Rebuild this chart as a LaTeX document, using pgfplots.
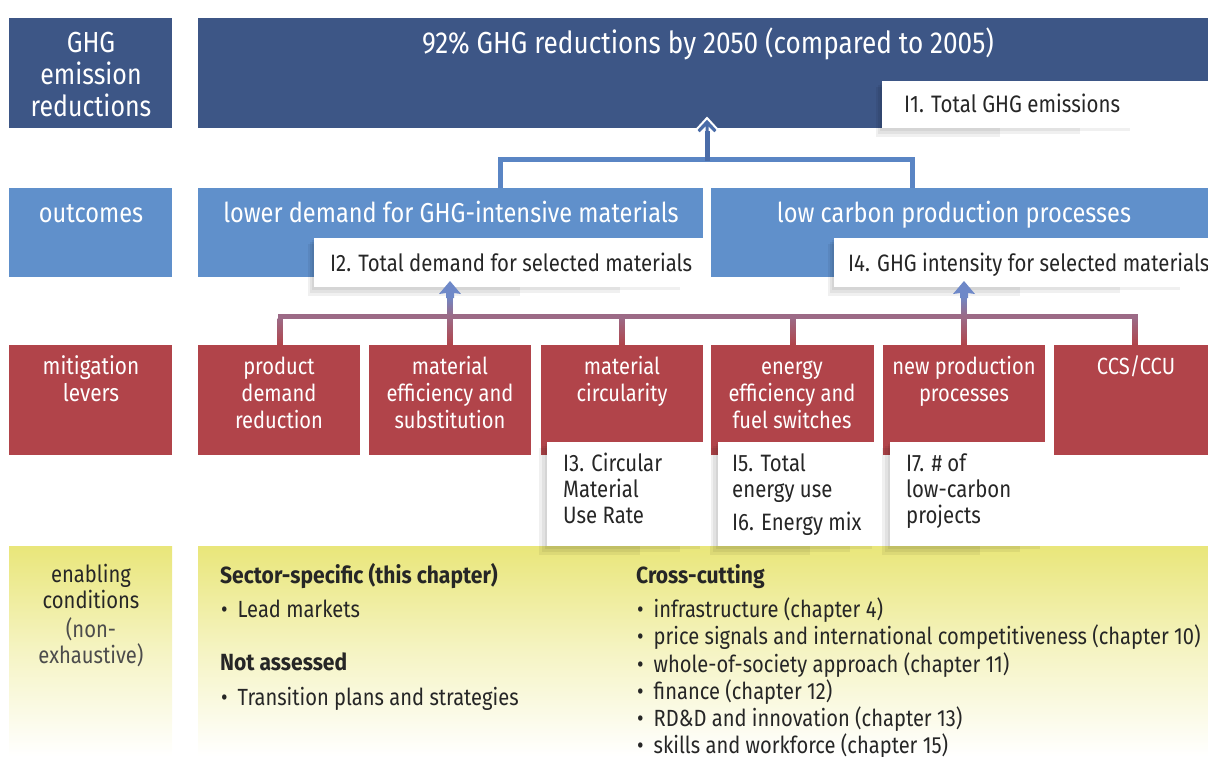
\documentclass[border=0pt]{standalone}
\usepackage{fontspec}
\setmainfont{Fira Sans}[FakeStretch=0.86,BoldFeatures={FakeStretch=0.90}]
\usepackage{pgfplots}
\pgfplotsset{compat=1.18}
\usetikzlibrary{arrows.meta}
\definecolor{dblue}{HTML}{3D5686}
\definecolor{mblue}{HTML}{6090CB}
\definecolor{lred}{HTML}{B1444A}
\definecolor{yel}{HTML}{E9E67A}
\definecolor{cblue}{HTML}{5A85C4}
\definecolor{ablue}{HTML}{4A6CA8}
\definecolor{mauve}{HTML}{9C6A86}
\definecolor{pblue}{HTML}{6E88C8}
\definecolor{txt}{HTML}{262626}
\newcommand{\fs}[1]{\fontsize{#1}{#1}\selectfont}
\begin{document}
\begin{tikzpicture}
\begin{axis}[at={(0,0)},anchor=south west,width=1208pt,height=756pt,scale only axis,
  xmin=0,xmax=1208,ymin=0,ymax=756,y dir=reverse,hide axis,clip=false]
% ---------- row 1
\addplot[fill=dblue,draw=none,mark=none] coordinates {(9,18)(172,18)(172,128)(9,128)} -- cycle;
\addplot[fill=dblue,draw=none,mark=none] coordinates {(198,18)(1208,18)(1208,128)(198,128)} -- cycle;
% ---------- row 2
\addplot[fill=mblue,draw=none,mark=none] coordinates {(9,188)(172,188)(172,277)(9,277)} -- cycle;
\addplot[fill=mblue,draw=none,mark=none] coordinates {(198,188)(703,188)(703,277)(198,277)} -- cycle;
\addplot[fill=mblue,draw=none,mark=none] coordinates {(711,188)(1208,188)(1208,277)(711,277)} -- cycle;
% ---------- row 3
\addplot[fill=lred,draw=none,mark=none] coordinates {(9,345)(172,345)(172,455)(9,455)} -- cycle;
\addplot[fill=lred,draw=none,mark=none] coordinates {(198,345)(360,345)(360,455)(198,455)} -- cycle;
\addplot[fill=lred,draw=none,mark=none] coordinates {(369,345)(531,345)(531,455)(369,455)} -- cycle;
\addplot[fill=lred,draw=none,mark=none] coordinates {(541,345)(703,345)(703,455)(541,455)} -- cycle;
\addplot[fill=lred,draw=none,mark=none] coordinates {(711,345)(874,345)(874,455)(711,455)} -- cycle;
\addplot[fill=lred,draw=none,mark=none] coordinates {(883,345)(1045,345)(1045,455)(883,455)} -- cycle;
\addplot[fill=lred,draw=none,mark=none] coordinates {(1054,345)(1208,345)(1208,455)(1054,455)} -- cycle;
% ---------- row 4 (gradient)
\shade[top color=yel,bottom color=white,middle color=yel!45!white] (axis cs:9,546) rectangle (axis cs:172,756);
\shade[top color=yel,bottom color=white,middle color=yel!45!white] (axis cs:198,546) rectangle (axis cs:1208,756);
% ---------- soft shadows
\fill[black,opacity=0.06] (axis cs:880,83) rectangle (axis cs:1130,131);
\fill[black,opacity=0.06] (axis cs:878,85) rectangle (axis cs:1080,134);
\fill[black,opacity=0.06] (axis cs:876,87) rectangle (axis cs:1000,137);
\fill[black,opacity=0.06] (axis cs:312,240) rectangle (axis cs:680,290);
\fill[black,opacity=0.06] (axis cs:310,242) rectangle (axis cs:620,293);
\fill[black,opacity=0.06] (axis cs:308,244) rectangle (axis cs:520,296);
\fill[black,opacity=0.06] (axis cs:832,240) rectangle (axis cs:1180,290);
\fill[black,opacity=0.06] (axis cs:830,242) rectangle (axis cs:1120,293);
\fill[black,opacity=0.06] (axis cs:828,244) rectangle (axis cs:1020,296);
\fill[black,opacity=0.06] (axis cs:545,444) rectangle (axis cs:700,549);
\fill[black,opacity=0.06] (axis cs:542,446) rectangle (axis cs:680,552);
\fill[black,opacity=0.06] (axis cs:539,448) rectangle (axis cs:640,555);
\fill[black,opacity=0.06] (axis cs:716,444) rectangle (axis cs:872,549);
\fill[black,opacity=0.06] (axis cs:713,446) rectangle (axis cs:850,552);
\fill[black,opacity=0.06] (axis cs:710,448) rectangle (axis cs:810,555);
\fill[black,opacity=0.06] (axis cs:888,444) rectangle (axis cs:1040,549);
\fill[black,opacity=0.06] (axis cs:885,446) rectangle (axis cs:1020,552);
\fill[black,opacity=0.06] (axis cs:882,448) rectangle (axis cs:980,555);
% ---------- white indicator boxes
\addplot[fill=white,draw=none,mark=none] coordinates {(882,81)(1208,81)(1208,128)(882,128)} -- cycle;
\addplot[fill=white,draw=none,mark=none] coordinates {(314,238)(703,238)(703,287)(314,287)} -- cycle;
\addplot[fill=white,draw=none,mark=none] coordinates {(834,238)(1208,238)(1208,287)(834,287)} -- cycle;
\addplot[fill=white,draw=none,mark=none] coordinates {(547,442)(711,442)(711,546)(547,546)} -- cycle;
\addplot[fill=white,draw=none,mark=none] coordinates {(718,442)(882,442)(882,546)(718,546)} -- cycle;
\addplot[fill=white,draw=none,mark=none] coordinates {(890,442)(1046,442)(1046,546)(890,546)} -- cycle;
% ---------- upper connectors
\addplot[cblue,line width=5pt,mark=none] coordinates {(500,188)(500,159)(912,159)(912,188)};
\filldraw[fill=ablue,draw=white,line width=2pt,line join=miter] (axis cs:707,118) -- (axis cs:718,130) -- (axis cs:714.5,134) -- (axis cs:709.5,129) -- (axis cs:709.5,140) -- (axis cs:704.5,140) -- (axis cs:704.5,129) -- (axis cs:699.5,134) -- (axis cs:696,130) -- cycle;
\addplot[ablue,line width=5pt,mark=none] coordinates {(707,161)(707,131)};
% ---------- lower connectors
\addplot[mauve,line width=5pt,mark=none] coordinates {(280,345)(280,316)(1135,316)(1135,345)};
\shade[top color=mauve,bottom color=lred] (axis cs:447.5,318) rectangle (axis cs:452.5,345);
\shade[top color=mauve,bottom color=lred] (axis cs:619.5,318) rectangle (axis cs:624.5,345);
\shade[top color=mauve,bottom color=lred] (axis cs:790.5,318) rectangle (axis cs:795.5,345);
\shade[top color=mauve,bottom color=lred] (axis cs:961.5,318) rectangle (axis cs:966.5,345);
\shade[top color=mauve,bottom color=lred] (axis cs:277.5,318) rectangle (axis cs:282.5,345);
\shade[top color=mauve,bottom color=lred] (axis cs:1132.5,318) rectangle (axis cs:1137.5,345);
\shade[top color=pblue,bottom color=mauve] (axis cs:447.5,296) rectangle (axis cs:452.5,316);
\shade[top color=pblue,bottom color=mauve] (axis cs:961.5,296) rectangle (axis cs:966.5,316);
\fill[pblue] (axis cs:450,281) -- (axis cs:461,294) -- (axis cs:454,293) -- (axis cs:454,298) -- (axis cs:446,298) -- (axis cs:446,293) -- (axis cs:439,294) -- cycle;
\fill[pblue] (axis cs:964,281) -- (axis cs:975,294) -- (axis cs:968,293) -- (axis cs:968,298) -- (axis cs:960,298) -- (axis cs:960,293) -- (axis cs:953,294) -- cycle;
% ---------- texts row 1
\node[anchor=base,text=white,font=\fs{29}] at (axis cs:91,52) {GHG};
\node[anchor=base,text=white,font=\fs{29}] at (axis cs:91,84) {emission};
\node[anchor=base,text=white,font=\fs{29}] at (axis cs:91,116) {reductions};
\node[anchor=base,text=white,font=\fs{30.4}] at (axis cs:708,53) {92\% GHG reductions by 2050 (compared to 2005)};
\node[anchor=base west,text=txt,font=\fs{23.8},inner sep=0pt] at (axis cs:904,112) {I1. Total GHG emissions};
% ---------- texts row 2
\node[anchor=base,text=white,font=\fs{27.4}] at (axis cs:91,222) {outcomes};
\node[anchor=base,text=white,font=\fs{27.4}] at (axis cs:451,222) {lower demand for GHG-intensive materials};
\node[anchor=base,text=white,font=\fs{27.4}] at (axis cs:954,222) {low carbon production processes};
\node[anchor=base west,text=txt,font=\fs{23.7},inner sep=0pt] at (axis cs:330,271) {I2. Total demand for selected materials};
\node[anchor=base west,text=txt,font=\fs{23.7},inner sep=0pt] at (axis cs:848,271) {I4. GHG intensity for selected materials};
% ---------- texts row 3
\node[anchor=base,text=white,font=\fs{24.2}] at (axis cs:91,374) {mitigation};
\node[anchor=base,text=white,font=\fs{24.2}] at (axis cs:91,401) {levers};
\node[anchor=base,text=white,font=\fs{23.4}] at (axis cs:279,374) {product};
\node[anchor=base,text=white,font=\fs{23.4}] at (axis cs:279,401) {demand};
\node[anchor=base,text=white,font=\fs{23.4}] at (axis cs:279,428) {reduction};
\node[anchor=base,text=white,font=\fs{23.4}] at (axis cs:450,374) {material};
\node[anchor=base,text=white,font=\fs{23.4}] at (axis cs:450,401) {efficiency and};
\node[anchor=base,text=white,font=\fs{23.4}] at (axis cs:450,428) {substitution};
\node[anchor=base,text=white,font=\fs{23.4}] at (axis cs:622,374) {material};
\node[anchor=base,text=white,font=\fs{23.4}] at (axis cs:622,401) {circularity};
\node[anchor=base,text=white,font=\fs{23.4}] at (axis cs:792,374) {energy};
\node[anchor=base,text=white,font=\fs{23.4}] at (axis cs:792,401) {efficiency and};
\node[anchor=base,text=white,font=\fs{23.4}] at (axis cs:792,428) {fuel switches};
\node[anchor=base,text=white,font=\fs{23.4}] at (axis cs:964,374) {new production};
\node[anchor=base,text=white,font=\fs{23.4}] at (axis cs:964,401) {processes};
\node[anchor=base,text=white,font=\fs{23.4}] at (axis cs:1136,374) {CCS/CCU};
\node[anchor=base west,text=txt,font=\fs{23.7},inner sep=0pt] at (axis cs:563,471) {I3. Circular};
\node[anchor=base west,text=txt,font=\fs{23.7},inner sep=0pt] at (axis cs:563,497) {Material};
\node[anchor=base west,text=txt,font=\fs{23.7},inner sep=0pt] at (axis cs:563,523) {Use Rate};
\node[anchor=base west,text=txt,font=\fs{23.7},inner sep=0pt] at (axis cs:732,471) {I5. Total};
\node[anchor=base west,text=txt,font=\fs{23.7},inner sep=0pt] at (axis cs:732,497) {energy use};
\node[anchor=base west,text=txt,font=\fs{23.7},inner sep=0pt] at (axis cs:732,530) {I6. Energy mix};
\node[anchor=base west,text=txt,font=\fs{23.7},inner sep=0pt] at (axis cs:906,471) {I7. \# of};
\node[anchor=base west,text=txt,font=\fs{23.7},inner sep=0pt] at (axis cs:906,497) {low-carbon};
\node[anchor=base west,text=txt,font=\fs{23.7},inner sep=0pt] at (axis cs:906,523) {projects};
% ---------- texts row 4
\node[anchor=base,text=txt,font=\fs{23.5}] at (axis cs:91,582) {enabling};
\node[anchor=base,text=txt,font=\fs{23.5}] at (axis cs:91,608) {conditions};
\node[anchor=base,text=black!70,font=\fs{23.5}] at (axis cs:91,637) {(non-};
\node[anchor=base,text=black!70,font=\fs{23.5}] at (axis cs:91,663) {exhaustive)};
\node[anchor=base west,text=txt,font=\fs{23.4}\bfseries,inner sep=0pt] at (axis cs:220,583) {Sector-specific (this chapter)};
\node[anchor=base west,text=txt,font=\fs{23.4},inner sep=0pt] at (axis cs:221,617) {\textbullet\hspace{10pt}Lead markets};
\node[anchor=base west,text=txt,font=\fs{23.4}\bfseries,inner sep=0pt] at (axis cs:220,670) {Not assessed};
\node[anchor=base west,text=txt,font=\fs{23.4},inner sep=0pt] at (axis cs:221,705) {\textbullet\hspace{10pt}Transition plans and strategies};
\node[anchor=base west,text=txt,font=\fs{23.4}\bfseries,inner sep=0pt] at (axis cs:636,583) {Cross-cutting};
\node[anchor=base west,text=txt,font=\fs{23.4},inner sep=0pt] at (axis cs:637,617) {\textbullet\hspace{10pt}infrastructure (chapter 4)};
\node[anchor=base west,text=txt,font=\fs{23.4},inner sep=0pt] at (axis cs:637,644.5) {\textbullet\hspace{10pt}price signals and international competitiveness (chapter 10)};
\node[anchor=base west,text=txt,font=\fs{23.4},inner sep=0pt] at (axis cs:637,672) {\textbullet\hspace{10pt}whole-of-society approach (chapter 11)};
\node[anchor=base west,text=txt,font=\fs{23.4},inner sep=0pt] at (axis cs:637,699) {\textbullet\hspace{10pt}finance (chapter 12)};
\node[anchor=base west,text=txt,font=\fs{23.4},inner sep=0pt] at (axis cs:637,726.5) {\textbullet\hspace{10pt}RD\&D and innovation (chapter 13)};
\node[anchor=base west,text=txt,font=\fs{23.4},inner sep=0pt] at (axis cs:637,753) {\textbullet\hspace{10pt}skills and workforce (chapter 15)};
\end{axis}
\pgfresetboundingbox
\useasboundingbox (0,0) rectangle (1208pt,756pt);
\end{tikzpicture}
\end{document}
